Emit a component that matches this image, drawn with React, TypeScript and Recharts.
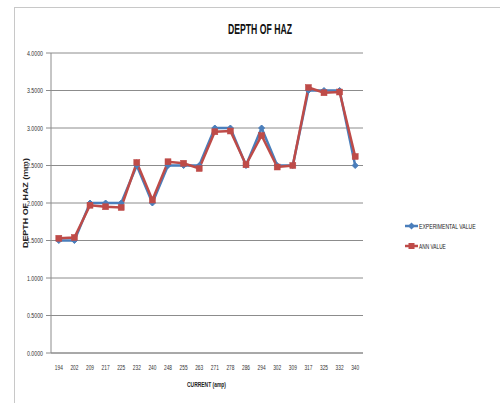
import React from "react";
import { LineChart, Line, XAxis, YAxis, CartesianGrid } from "recharts";

const categories = ["194","202","209","217","225","232","240","248","255","263","271","278","286","294","302","309","317","325","332","340"];
const experimental = [1.5,1.5,2.0,2.0,2.0,2.5,2.0,2.5,2.5,2.5,3.0,3.0,2.5,3.0,2.5,2.5,3.5,3.5,3.5,2.5];
const ann = [1.53,1.54,1.97,1.95,1.94,2.54,2.04,2.55,2.53,2.46,2.95,2.96,2.51,2.90,2.48,2.50,3.54,3.47,3.48,2.62];
const yTicks = [0,0.5,1,1.5,2,2.5,3,3.5,4];

const data = categories.map((c, i) => ({ current: c, exp: experimental[i], ann: ann[i] }));

const BLUE = "#4a7ebb";
const RED = "#be4b48";
const FONT = "'Liberation Sans', Arial, sans-serif";

const Diamond = (props: any) => {
  const { cx, cy } = props;
  if (cx == null || cy == null) return null;
  const s = 3;
  return <path d={`M${cx},${cy - s}L${cx + s},${cy}L${cx},${cy + s}L${cx - s},${cy}Z`} fill={BLUE} stroke={BLUE} />;
};
const Square = (props: any) => {
  const { cx, cy } = props;
  if (cx == null || cy == null) return null;
  return <rect x={cx - 3} y={cy - 3} width={6} height={6} fill={RED} stroke={RED} strokeWidth={0.5} />;
};

const YTick = (props: any) => {
  const { x, y, payload } = props;
  return (
    <text x={x - 1} y={y + 2.5} textAnchor="end" fontFamily={FONT} fontSize={7} fill="#333" textLength={16} lengthAdjust="spacingAndGlyphs">
      {Number(payload.value).toFixed(4)}
    </text>
  );
};
const XTick = (props: any) => {
  const { x, y, payload } = props;
  return (
    <text x={x} y={y + 9} textAnchor="middle" fontFamily={FONT} fontSize={7} fill="#333" textLength={8} lengthAdjust="spacingAndGlyphs">
      {payload.value}
    </text>
  );
};

export default function App() {
  return (
    <div style={{ position: "absolute", left: 0, top: 0, width: 500, height: 403, overflow: "hidden", background: "#fff" }}>
      <div style={{ position: "absolute", left: 14, top: 7, width: 600, height: 500, border: "1px solid #c8c8c8", boxSizing: "border-box" }} />
      <div style={{ position: "absolute", left: 0, top: 0 }}>
        <LineChart width={500} height={403} data={data} margin={{ top: 53, right: 137, bottom: 0, left: 0 }}>
          <CartesianGrid vertical={false} stroke="#8c8c8c" strokeWidth={1} />
          <XAxis
            dataKey="current"
            height={50}
            stroke="#8c8c8c"
            tickLine={false}
            interval={0}
            padding={{ left: 7.8, right: 7.8 }}
            tick={<XTick />}
          />
          <YAxis
            width={51}
            domain={[0, 4]}
            ticks={yTicks}
            interval={0}
            stroke="#8c8c8c"
            tickSize={5}
            tick={<YTick />}
          />
          <Line type="linear" dataKey="exp" name="EXPERIMENTAL VALUE" stroke={BLUE} strokeWidth={2.5} dot={<Diamond />} activeDot={false} isAnimationActive={false} />
          <Line type="linear" dataKey="ann" name="ANN VALUE" stroke={RED} strokeWidth={2.5} dot={<Square />} activeDot={false} isAnimationActive={false} />
        </LineChart>
      </div>
      <svg width={500} height={403} style={{ position: "absolute", left: 0, top: 0, pointerEvents: "none" }}>
        <text x={228} y={34} fontFamily={FONT} fontWeight="bold" fontSize={15} fill="#111" textLength={64} lengthAdjust="spacingAndGlyphs">DEPTH OF HAZ</text>
        <text x={187} y={387} fontFamily={FONT} fontWeight="bold" fontSize={8} fill="#222" textLength={39} lengthAdjust="spacingAndGlyphs">CURRENT (amp)</text>
        <text transform="translate(27.5,248) rotate(-90)" x={0} y={0} fontFamily={FONT} fontWeight="bold" fontSize={7} fill="#222" textLength={90} lengthAdjust="spacingAndGlyphs">DEPTH  OF HAZ  (mm)</text>
        <line x1={405} y1={226} x2={418} y2={226} stroke={BLUE} strokeWidth={2.5} />
        <path d="M411.5,222.5L415,226L411.5,229.5L408,226Z" fill={BLUE} />
        <g transform="translate(419,229) scale(0.64,1)">
          <text x={0} y={0} fontFamily={FONT} fontSize={8} fill="#222">EXPERIMENTAL  VALUE</text>
        </g>
        <line x1={405} y1={246} x2={418} y2={246} stroke={RED} strokeWidth={2.5} />
        <rect x={408.5} y={243} width={6} height={6} fill={RED} />
        <g transform="translate(419,249) scale(0.6,1)">
          <text x={0} y={0} fontFamily={FONT} fontSize={8} fill="#222">ANN VALUE</text>
        </g>
      </svg>
    </div>
  );
}
